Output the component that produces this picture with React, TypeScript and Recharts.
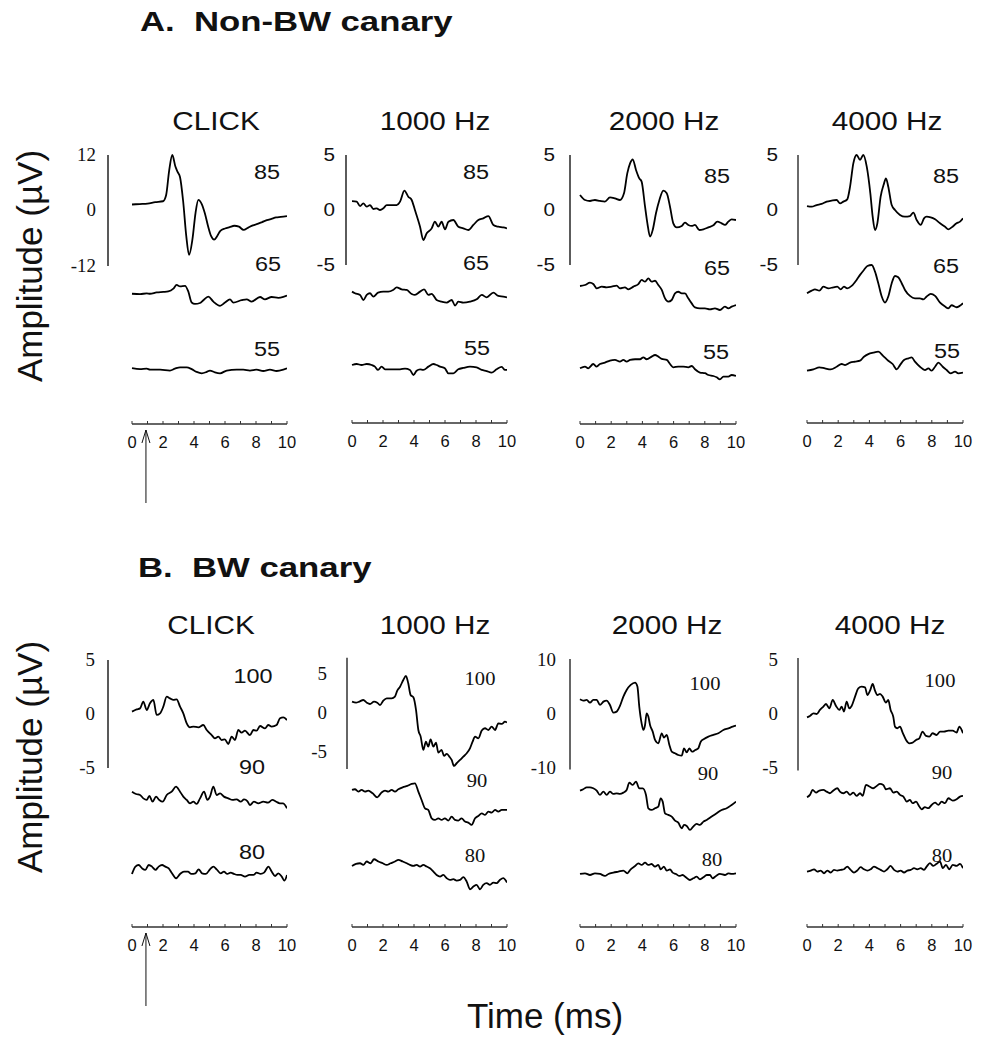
import React from "react";
import { LineChart, Line, XAxis, YAxis, ReferenceLine, ReferenceDot } from "recharts";

type Pt = [number, number];

const SANS = '"Liberation Sans", Arial, sans-serif';
const SERIF = '"Liberation Serif", "Times New Roman", serif';

// time ticks (ms), labels on even values only
const TIME_TICKS = [0, 1, 2, 3, 4, 5, 6, 7, 8, 9, 10];
const STIMULI = ["CLICK", "1000 Hz", "2000 Hz", "4000 Hz"];
const LEVELS_A = ["85", "65", "55"];
const LEVELS_B = ["100", "90", "80"];
const ARROW_T = 0.9; // stimulus onset marker

// ---- A. Non-BW canary : [time ms, amplitude µV] ----
const A_CLICK_85: Pt[] = [[0,1.3],[0.5,1.4],[1,1.5],[1.5,1.8],[2,2.0],[2.2,3.3],[2.4,8.7],[2.6,12],[2.8,9.5],[2.95,8.3],[3.1,7.2],[3.3,2],[3.5,-5.5],[3.68,-9.6],[3.9,-6.2],[4.1,-0.5],[4.28,2.3],[4.5,1.4],[4.7,-0.6],[4.9,-3.3],[5.1,-5.5],[5.3,-6.3],[5.5,-5.5],[5.7,-4.4],[6.0,-3.9],[6.3,-3.6],[6.6,-3.3],[6.9,-3.5],[7.2,-4.2],[7.5,-3.7],[7.8,-3.2],[8.1,-2.9],[8.4,-2.5],[8.7,-2.1],[9.0,-1.8],[9.3,-1.5],[9.6,-1.4],[10,-1.2]];
const A_CLICK_65: Pt[] = [[0,0],[0.52,-0.1],[0.95,0.1],[1.16,0],[1.59,0.3],[2.02,0.4],[2.34,0.5],[2.67,1.1],[2.88,1.9],[3.1,1.6],[3.42,1.7],[3.63,0.5],[3.85,-1.9],[4.06,-2.2],[4.39,-2.0],[4.6,-1.4],[4.92,-0.6],[5.25,-1.7],[5.68,-2.6],[6.0,-1.9],[6.32,-1.2],[6.54,-1.9],[7.07,-1.4],[7.4,-1.2],[7.72,-1.7],[8.26,-0.7],[8.58,-1.2],[9.01,-0.7],[9.44,-0.9],[9.76,-0.7],[10,-0.4]];
const A_CLICK_55: Pt[] = [[0,0.2],[0.52,0],[0.95,0.1],[1.16,-0.1],[1.81,-0.1],[2.45,-0.3],[2.77,0.1],[3.1,0.4],[3.53,0.4],[3.85,0],[4.17,-0.6],[4.5,-0.9],[4.82,-0.6],[5.03,-0.3],[5.35,-0.7],[5.68,-0.9],[6.11,-0.3],[6.75,-0.1],[7.18,-0.1],[7.61,-0.3],[8.04,-0.1],[8.47,-0.4],[8.9,-0.1],[9.33,-0.4],[9.76,-0.1],[10,0.2]];

const A_1000_85: Pt[] = [[0,0.8],[0.3,0.76],[0.52,0.36],[0.73,0.6],[0.95,0.3],[1.16,0.45],[1.38,0.09],[1.59,0.15],[1.81,0],[2.02,0.15],[2.24,0.45],[2.45,0.45],[2.88,0.45],[3.1,0.76],[3.38,1.76],[3.63,1.21],[3.85,0.91],[4.06,0],[4.39,-1.52],[4.6,-2.73],[4.82,-2.12],[5.14,-1.67],[5.35,-1.06],[5.57,-1.52],[5.78,-1.06],[6.0,-1.76],[6.22,-1.06],[6.54,-0.91],[6.86,-1.52],[7.18,-1.67],[7.51,-1.82],[7.83,-1.36],[8.15,-0.91],[8.47,-0.76],[8.8,-0.55],[9.12,-1.36],[9.44,-1.52],[9.76,-1.58],[10,-1.67]];
const A_1000_65: Pt[] = [[0,0],[0.19,-0.15],[0.52,-0.3],[0.73,-0.76],[0.95,-0.3],[1.16,-0.15],[1.38,-0.45],[1.68,-0.09],[2.02,0],[2.34,0],[2.65,0.15],[2.88,0.39],[3.2,0.21],[3.53,0.15],[3.85,-0.21],[4.06,-0.3],[4.39,0],[4.65,0.21],[4.93,-0.3],[5.14,-0.21],[5.46,-0.76],[5.78,-0.91],[6.11,-1.0],[6.43,-0.76],[6.65,-1.27],[6.86,-0.91],[7.18,-1.0],[7.61,-0.91],[8.04,-0.7],[8.37,-0.3],[8.69,-0.52],[9.12,-0.09],[9.44,-0.39],[9.76,-0.45],[10,-0.52]];
const A_1000_55: Pt[] = [[0,0],[0.3,0.09],[0.62,0],[0.95,0.09],[1.27,0],[1.48,-0.15],[1.68,-0.45],[1.91,-0.15],[2.13,-0.39],[2.45,-0.39],[2.77,-0.39],[3.1,-0.39],[3.42,-0.33],[3.74,-0.45],[3.96,-0.91],[4.17,-0.52],[4.39,-0.39],[4.6,-0.45],[4.93,-0.15],[5.25,0.09],[5.46,0],[5.68,-0.15],[5.99,-0.3],[6.22,-0.76],[6.54,-0.76],[6.86,-0.39],[7.18,-0.27],[7.61,-0.15],[8.04,-0.21],[8.37,-0.45],[8.69,-0.55],[9.0,-0.7],[9.33,-0.39],[9.66,-0.18],[9.87,-0.45],[10,-0.45]];

const A_2000_85: Pt[] = [[0,1.36],[0.32,0.91],[0.64,0.82],[0.96,0.91],[1.28,0.82],[1.6,0.76],[1.92,1.15],[2.24,1.06],[2.56,0.91],[2.82,1.52],[3.03,3.33],[3.21,4.24],[3.38,4.61],[3.59,3.64],[3.8,2.88],[3.95,2.58],[4.17,0.3],[4.32,-1.21],[4.49,-2.42],[4.66,-1.82],[4.87,-0.3],[5.09,0.91],[5.34,1.76],[5.56,1.52],[5.77,0.3],[5.98,-1.21],[6.2,-1.58],[6.52,-1.45],[6.73,-1.15],[6.94,-1.36],[7.16,-1.45],[7.37,-1.36],[7.65,-1.82],[7.91,-1.76],[8.23,-1.58],[8.55,-1.39],[8.8,-1.06],[9.08,-1.21],[9.29,-1.36],[9.51,-1.06],[9.72,-0.85],[10,-0.91]];
const A_2000_65: Pt[] = [[0,0],[0.32,0.09],[0.64,0.3],[0.85,0.18],[1.07,-0.21],[1.39,-0.06],[1.71,-0.12],[2.03,-0.06],[2.35,0.03],[2.56,-0.21],[2.88,-0.12],[3.1,-0.3],[3.42,-0.06],[3.74,0.18],[3.95,0.55],[4.17,0.39],[4.38,0.7],[4.59,0.39],[4.81,0.48],[5.02,0.09],[5.24,-0.36],[5.45,-1.12],[5.66,-1.42],[5.88,-1.27],[6.09,-0.67],[6.3,-0.52],[6.52,-0.67],[6.73,-0.67],[6.94,-1.12],[7.16,-1.58],[7.37,-1.94],[7.69,-2.03],[8.01,-2.03],[8.33,-2.12],[8.65,-2.03],[8.97,-2.18],[9.29,-1.88],[9.51,-2.03],[9.72,-1.88],[10,-1.73]];
const A_2000_55: Pt[] = [[0,0],[0.32,0.15],[0.53,0],[0.85,0.39],[1.07,0.15],[1.28,0.39],[1.6,0.52],[1.92,0.7],[2.24,0.76],[2.56,0.61],[2.78,0.76],[2.99,0.61],[3.21,0.76],[3.53,0.82],[3.85,0.82],[4.06,1.0],[4.27,0.82],[4.59,1.06],[4.81,1.21],[5.02,1.06],[5.24,0.85],[5.56,0.76],[5.77,0.39],[5.98,0.09],[6.3,0.15],[6.62,0.15],[6.94,0.09],[7.16,0.21],[7.37,-0.09],[7.69,-0.39],[8.01,-0.45],[8.23,-0.61],[8.55,-0.7],[8.76,-0.82],[8.97,-1.0],[9.19,-0.76],[9.51,-0.76],[9.72,-0.61],[10,-0.7]];

const A_4000_85: Pt[] = [[0,0.36],[0.3,0.3],[0.62,0.45],[0.94,0.55],[1.26,0.76],[1.58,0.85],[1.9,0.91],[2.12,0.61],[2.33,0.76],[2.58,0.97],[2.76,2.12],[2.97,4.24],[3.18,5.0],[3.4,4.55],[3.61,5.0],[3.83,3.94],[4.06,1.52],[4.21,-0.61],[4.36,-1.82],[4.51,-1.21],[4.72,1.21],[4.94,2.42],[5.06,2.88],[5.21,2.12],[5.43,0.45],[5.64,0],[5.96,-0.45],[6.28,-0.61],[6.6,-0.55],[6.82,-0.24],[7.03,-0.91],[7.29,-1.36],[7.5,-0.76],[7.67,-0.61],[7.93,-0.67],[8.21,-0.85],[8.53,-1.21],[8.85,-1.52],[9.06,-1.76],[9.27,-1.58],[9.59,-1.21],[9.81,-1.06],[10,-0.76]];
const A_4000_65: Pt[] = [[0,-0.15],[0.3,0.09],[0.51,0.21],[0.79,0.09],[1.05,0.45],[1.37,0.3],[1.69,0.39],[1.94,0.45],[2.16,0.21],[2.37,0.45],[2.58,0.3],[2.86,0.52],[3.18,1.06],[3.4,1.52],[3.65,1.97],[3.87,2.33],[4.15,2.42],[4.36,1.82],[4.57,0.76],[4.79,-0.45],[5.0,-1.0],[5.21,-0.45],[5.43,0.76],[5.64,1.42],[5.85,1.3],[6.07,0.76],[6.28,0.15],[6.6,-0.39],[6.92,-0.61],[7.24,-0.61],[7.46,-0.7],[7.67,-0.45],[7.93,-0.21],[8.21,-0.39],[8.53,-1.0],[8.85,-1.36],[9.06,-1.52],[9.27,-1.24],[9.59,-1.42],[10,-1.06]];
const A_4000_55: Pt[] = [[0,-0.06],[0.41,0.06],[0.79,0.24],[1.15,0.15],[1.52,0.06],[1.9,0.3],[2.22,0.55],[2.44,0.45],[2.76,0.67],[3.08,0.76],[3.4,0.85],[3.65,1.21],[3.93,1.45],[4.25,1.58],[4.57,1.67],[4.89,1.27],[5.21,0.85],[5.49,0.55],[5.75,0.06],[5.96,0.45],[6.22,0.91],[6.5,1.06],[6.71,1.15],[6.92,0.76],[7.24,0.3],[7.56,0],[7.78,0.15],[7.99,-0.06],[8.21,0.3],[8.42,0.67],[8.7,0.3],[8.95,0],[9.21,-0.3],[9.49,-0.15],[9.7,-0.3],[10,-0.24]];

// ---- B. BW canary ----
const B_CLICK_100: Pt[] = [[0,0.22],[0.3,0.43],[0.52,0.52],[0.73,1.14],[0.95,0.37],[1.16,0.99],[1.38,1.3],[1.59,-0.09],[1.81,0.06],[2.02,0.68],[2.24,1.6],[2.45,1.45],[2.67,1.3],[2.88,1.36],[3.1,0.68],[3.31,0.06],[3.53,-0.86],[3.74,-1.23],[3.96,-1.17],[4.28,-1.23],[4.6,-1.02],[4.82,-1.48],[5.14,-1.95],[5.35,-2.25],[5.57,-2.1],[5.78,-2.41],[5.99,-2.35],[6.21,-2.78],[6.43,-2.1],[6.64,-2.41],[6.86,-1.48],[7.07,-1.73],[7.29,-1.54],[7.61,-1.95],[7.83,-1.48],[8.04,-1.54],[8.26,-1.11],[8.58,-1.33],[8.79,-1.02],[9.01,-1.17],[9.33,-1.02],[9.55,-0.4],[9.76,-0.31],[10,-0.56]];
const B_CLICK_90: Pt[] = [[0,0.31],[0.26,0.09],[0.52,0],[0.73,-0.31],[0.95,-0.46],[1.12,-0.09],[1.33,-0.62],[1.55,-0.15],[1.76,-0.46],[1.98,-0.62],[2.24,0],[2.56,0.31],[2.84,0.77],[3.1,0.31],[3.31,-0.15],[3.53,-0.46],[3.74,-0.77],[3.96,-0.62],[4.17,-0.83],[4.39,-0.31],[4.65,0.31],[4.86,-0.46],[5.03,-0.15],[5.25,0.77],[5.46,0],[5.68,0.15],[5.93,-0.15],[6.21,-0.31],[6.49,-0.46],[6.75,-0.4],[7.01,-0.62],[7.23,-0.4],[7.44,-0.56],[7.61,-0.93],[7.87,-0.62],[8.15,-0.77],[8.47,-0.62],[8.77,-0.71],[9.05,-0.46],[9.31,-0.62],[9.53,-0.77],[9.74,-0.77],[10,-1.23]];
const B_CLICK_80: Pt[] = [[0,-0.37],[0.22,0.31],[0.43,0.46],[0.65,0.15],[0.86,0],[1.08,0.46],[1.29,0.31],[1.51,0],[1.72,0.31],[1.94,0.46],[2.15,0.31],[2.37,0.15],[2.58,-0.31],[2.84,-0.77],[3.1,-0.37],[3.35,-0.15],[3.61,-0.15],[3.83,-0.37],[4.09,-0.31],[4.3,0.06],[4.52,-0.31],[4.77,-0.37],[5.03,0.06],[5.25,0.31],[5.46,0.06],[5.72,-0.31],[5.93,-0.15],[6.15,-0.37],[6.37,-0.25],[6.58,-0.37],[6.8,-0.46],[7.01,-0.46],[7.29,-0.62],[7.57,-0.46],[7.83,-0.46],[8.04,-0.25],[8.3,-0.37],[8.52,-0.25],[8.8,0.31],[9.01,-0.15],[9.23,-0.56],[9.44,-0.31],[9.66,-0.62],[9.83,-0.99],[10,-0.46]];

const B_1000_100: Pt[] = [[0,1.49],[0.26,1.36],[0.47,1.49],[0.73,1.7],[0.95,1.36],[1.16,1.19],[1.42,1.49],[1.63,1.36],[1.81,1.06],[2.02,1.62],[2.24,1.91],[2.56,1.91],[2.77,2.13],[2.92,2.89],[3.1,3.4],[3.31,4.26],[3.48,4.77],[3.63,3.83],[3.78,2.34],[3.96,2.04],[4.13,0.43],[4.28,-2.13],[4.43,-2.98],[4.6,-4.68],[4.77,-3.62],[4.92,-4.26],[5.07,-3.32],[5.25,-4.26],[5.42,-3.74],[5.57,-5.02],[5.78,-4.68],[5.94,-5.45],[6.11,-5.19],[6.28,-5.53],[6.43,-5.96],[6.58,-6.72],[6.75,-6.38],[6.97,-5.96],[7.18,-5.53],[7.4,-5.11],[7.61,-4.47],[7.78,-3.62],[7.94,-2.98],[8.15,-3.19],[8.37,-2.21],[8.58,-1.91],[8.8,-2.13],[9.01,-1.7],[9.23,-2.13],[9.44,-1.28],[9.66,-1.36],[9.87,-1.06],[10,-1.19]];
const B_1000_90: Pt[] = [[0,0],[0.19,0.09],[0.41,-0.21],[0.62,0],[0.84,-0.21],[1.05,-0.09],[1.33,-0.43],[1.63,-0.94],[1.9,-0.34],[2.13,-0.09],[2.34,-0.21],[2.56,0],[2.77,-0.21],[2.99,0.09],[3.27,0.34],[3.57,0.51],[3.85,0.77],[4.06,0.85],[4.28,-0.21],[4.49,-1.28],[4.71,-2.34],[4.92,-2.55],[5.14,-3.62],[5.35,-3.83],[5.57,-3.62],[5.78,-3.83],[5.99,-3.62],[6.21,-3.91],[6.43,-3.4],[6.64,-3.83],[6.86,-3.91],[7.07,-3.62],[7.29,-4.04],[7.5,-4.17],[7.72,-4.47],[7.94,-3.62],[8.15,-3.32],[8.37,-2.98],[8.58,-3.19],[8.8,-2.77],[9.01,-2.89],[9.23,-2.55],[9.44,-2.77],[9.66,-2.55],[10,-2.55]];
const B_1000_80: Pt[] = [[0,-0.13],[0.26,0.13],[0.52,0.21],[0.73,0],[0.95,0.43],[1.2,0.21],[1.42,0.72],[1.7,0.43],[1.98,0.21],[2.24,0],[2.49,0.21],[2.77,0.43],[2.99,0.64],[3.27,0.43],[3.53,0.21],[3.74,0],[3.96,-0.13],[4.17,0],[4.39,-0.21],[4.6,0],[4.82,-0.21],[5.03,-0.43],[5.25,-0.85],[5.46,-1.28],[5.68,-1.49],[5.89,-1.28],[6.11,-1.7],[6.32,-1.91],[6.54,-1.83],[6.75,-2.0],[6.97,-1.91],[7.18,-1.57],[7.4,-2.13],[7.61,-3.11],[7.83,-2.77],[8.04,-2.55],[8.26,-3.11],[8.47,-2.55],[8.69,-2.34],[8.9,-2.55],[9.12,-2.26],[9.33,-2.34],[9.55,-1.91],[9.76,-1.7],[10,-2.26]];

const B_2000_100: Pt[] = [[0,2.8],[0.21,2.55],[0.43,2.67],[0.64,2.17],[0.85,2.67],[1.07,2.67],[1.28,1.74],[1.5,2.36],[1.71,2.55],[1.92,1.74],[2.14,0.31],[2.35,0.5],[2.56,1.55],[2.78,3.29],[2.99,4.53],[3.25,5.47],[3.53,5.9],[3.68,5.16],[3.8,1.43],[3.95,-1.68],[4.06,-2.92],[4.17,-1.99],[4.27,0.19],[4.38,-0.43],[4.49,-1.99],[4.66,-3.23],[4.81,-4.78],[5.02,-5.4],[5.24,-3.54],[5.38,-4.35],[5.56,-3.85],[5.73,-5.71],[5.88,-6.96],[6.09,-7.27],[6.3,-7.58],[6.52,-7.7],[6.67,-6.34],[6.84,-7.08],[7.01,-6.34],[7.18,-6.96],[7.39,-6.65],[7.58,-6.34],[7.74,-5.1],[7.95,-4.6],[8.23,-4.16],[8.55,-3.85],[8.87,-3.54],[9.19,-2.92],[9.51,-2.61],[9.79,-2.3],[10,-2.11]];
const B_2000_90: Pt[] = [[0,0],[0.21,0.25],[0.43,0.62],[0.64,0.62],[0.85,0.43],[1.07,0],[1.28,-0.81],[1.5,-0.19],[1.71,-0.81],[1.92,-0.19],[2.14,-0.62],[2.35,-0.5],[2.56,-0.62],[2.78,-0.37],[2.99,0.12],[3.16,1.49],[3.38,1.06],[3.59,1.68],[3.8,0.43],[4.02,0.43],[4.23,-0.81],[4.38,-3.29],[4.59,-3.6],[4.81,-3.29],[5.02,-2.98],[5.17,-1.43],[5.3,-2.05],[5.45,-4.22],[5.66,-4.53],[5.88,-4.84],[6.09,-5.59],[6.3,-5.96],[6.52,-7.02],[6.67,-6.4],[6.84,-6.58],[7.05,-7.33],[7.26,-6.71],[7.48,-6.21],[7.69,-6.4],[7.91,-5.78],[8.12,-5.47],[8.44,-4.84],[8.76,-4.22],[9.08,-3.6],[9.4,-3.29],[9.72,-2.67],[10,-2.05]];
const B_2000_80: Pt[] = [[0,0],[0.32,0.12],[0.64,-0.19],[0.96,0.12],[1.28,0],[1.6,-0.37],[1.82,0],[2.14,0.25],[2.46,0.43],[2.78,0.62],[3.03,0.12],[3.25,0.87],[3.53,1.49],[3.74,1.99],[3.95,1.68],[4.17,2.11],[4.38,1.68],[4.59,1.86],[4.81,1.37],[5.02,1.68],[5.17,0.87],[5.38,1.37],[5.56,0.62],[5.77,0.87],[5.94,0.25],[6.15,0],[6.37,-0.37],[6.58,-0.19],[6.79,-0.62],[7.05,-1.12],[7.26,-0.81],[7.48,-0.5],[7.69,-0.99],[7.91,-0.62],[8.12,-0.19],[8.33,-0.19],[8.5,-0.81],[8.72,-0.37],[8.97,0],[9.29,-0.19],[9.51,0.12],[9.72,0],[10,0.12]];

const B_4000_100: Pt[] = [[0,-0.28],[0.19,-0.15],[0.41,0.09],[0.62,0.03],[0.83,0.4],[1.05,0.71],[1.22,0.95],[1.43,0.55],[1.65,1.32],[1.86,0.77],[2.07,0.4],[2.22,0.71],[2.37,0.25],[2.54,1.17],[2.71,0.55],[2.86,0.77],[3.08,1.63],[3.29,2.4],[3.5,2.55],[3.72,2.49],[3.87,1.78],[4.04,2.18],[4.21,2.8],[4.36,2.18],[4.51,1.78],[4.68,1.88],[4.85,1.63],[5.06,1.08],[5.21,1.32],[5.36,0.4],[5.53,-0.22],[5.64,-1.14],[5.79,-1.29],[5.96,-1.14],[6.13,-1.69],[6.35,-2.37],[6.56,-2.68],[6.77,-2.62],[6.99,-2.37],[7.2,-2.22],[7.41,-1.6],[7.63,-2.0],[7.84,-2.06],[8.05,-1.75],[8.31,-1.91],[8.53,-1.6],[8.78,-1.6],[9.06,-1.51],[9.34,-1.51],[9.59,-1.69],[9.76,-1.14],[10,-1.75]];
const B_4000_90: Pt[] = [[0,-0.37],[0.19,-0.15],[0.36,0.31],[0.58,0.06],[0.79,0.25],[1.05,0.31],[1.26,0.15],[1.47,0],[1.69,0.25],[1.94,0.46],[2.11,0.15],[2.33,0],[2.54,0.15],[2.76,-0.15],[2.97,0.06],[3.18,-0.25],[3.4,0],[3.57,-0.25],[3.78,0.77],[4.0,0.62],[4.25,0.46],[4.47,0.68],[4.68,0.86],[4.89,0.77],[5.06,0.37],[5.32,0.46],[5.53,0.06],[5.75,0.15],[5.96,-0.15],[6.18,-0.31],[6.39,-0.77],[6.6,-0.62],[6.77,-0.92],[6.99,-0.77],[7.2,-1.23],[7.35,-1.48],[7.56,-1.29],[7.78,-1.38],[7.99,-1.08],[8.21,-0.86],[8.42,-1.08],[8.63,-0.77],[8.85,-0.92],[9.06,-0.46],[9.34,-0.68],[9.59,-0.55],[9.81,-0.31],[10,-0.25]];
const B_4000_80: Pt[] = [[0,-0.09],[0.24,0],[0.45,0.12],[0.66,-0.09],[0.88,0],[1.09,-0.25],[1.3,0],[1.52,-0.18],[1.73,0.06],[1.94,0],[2.16,0.06],[2.37,0.12],[2.58,0.37],[2.8,0.06],[3.01,-0.18],[3.22,0],[3.44,0.31],[3.65,0.12],[3.87,0],[4.08,0.12],[4.29,0.37],[4.51,0.22],[4.72,0.06],[4.94,-0.09],[5.15,0.12],[5.36,0.43],[5.58,0.06],[5.79,-0.09],[6.0,0],[6.22,-0.18],[6.43,0],[6.65,0.06],[6.86,0.22],[7.07,0.12],[7.29,0.22],[7.5,0.06],[7.67,0.37],[7.88,0.68],[8.1,0.43],[8.31,0.62],[8.53,0.83],[8.7,0.22],[8.91,0.52],[9.12,0.12],[9.34,0.52],[9.59,0.43],[9.81,0.62],[10,0.22]];

// layout of each panel, in page pixels
interface PanelCfg {
  traces: Pt[][]
  offsets: number[]
  axisX: number
  x0: number
  x10: number
  zeroY: number
  pxPerUV: number
  plotTop: number
  xAxisY: number
  axisRange: [number, number]
  yTicks: number[]
  tickFont: string
  tickGap: number
  axisColor: string
  axisWidth: number
  arrow?: boolean
  levels: string[]
  levelPos: [number, number][]
  levelFont: string
}

const PANELS: PanelCfg[] = [
  { traces: [A_CLICK_85, A_CLICK_65, A_CLICK_55], offsets: [0, -18.0, -34.3], axisX: 108, x0: 132, x10: 287, zeroY: 210.5, pxPerUV: 4.625, plotTop: 140, xAxisY: 424, axisRange: [-12, 12], yTicks: [-12, 0, 12], tickFont: SERIF, tickGap: 12, axisColor: "#222", axisWidth: 1.5, arrow: true, levels: LEVELS_A, levelPos: [[267, 173], [268, 265], [267, 350]], levelFont: SANS },
  { traces: [A_1000_85, A_1000_65, A_1000_55], offsets: [0, -7.42, -14.09], axisX: 346, x0: 352, x10: 507, zeroY: 210, pxPerUV: 11, plotTop: 140, xAxisY: 423, axisRange: [-5, 5], yTicks: [-5, 0, 5], tickFont: SANS, tickGap: 11, axisColor: "#333", axisWidth: 1.6, levels: LEVELS_A, levelPos: [[476, 173], [476, 264], [477, 349]], levelFont: SANS },
  { traces: [A_2000_85, A_2000_65, A_2000_55], offsets: [0, -6.91, -14.39], axisX: 570, x0: 580, x10: 736, zeroY: 210, pxPerUV: 11, plotTop: 140, xAxisY: 424, axisRange: [-5, 5], yTicks: [-5, 0, 5], tickFont: SANS, tickGap: 15, axisColor: "#333", axisWidth: 1.6, levels: LEVELS_A, levelPos: [[717, 177], [717, 269], [716, 353]], levelFont: SANS },
  { traces: [A_4000_85, A_4000_65, A_4000_55], offsets: [0, -7.42, -14.55], axisX: 798, x0: 807, x10: 963, zeroY: 210, pxPerUV: 11, plotTop: 140, xAxisY: 423, axisRange: [-5, 5], yTicks: [-5, 0, 5], tickFont: SANS, tickGap: 20, axisColor: "#6a6a6a", axisWidth: 2, levels: LEVELS_A, levelPos: [[946, 177], [946, 267], [947, 352]], levelFont: SANS },
  { traces: [B_CLICK_100, B_CLICK_90, B_CLICK_80], offsets: [0, -7.5, -14.44], axisX: 108, x0: 132, x10: 287, zeroY: 714, pxPerUV: 10.8, plotTop: 645, xAxisY: 927, axisRange: [-5, 5], yTicks: [-5, 0, 5], tickFont: SERIF, tickGap: 13, axisColor: "#222", axisWidth: 1.5, arrow: true, levels: LEVELS_B, levelPos: [[253, 677], [252, 768], [252, 853]], levelFont: SANS },
  { traces: [B_1000_100, B_1000_90, B_1000_80], offsets: [0, -9.79, -19.36], axisX: 347, x0: 352, x10: 507, zeroY: 713.3, pxPerUV: 7.83, plotTop: 645, xAxisY: 927, axisRange: [-7.1, 7.1], yTicks: [-5, 0, 5], tickFont: SERIF, tickGap: 20, axisColor: "#333", axisWidth: 1.5, levels: LEVELS_B, levelPos: [[480, 678], [477, 780], [475, 855]], levelFont: SERIF },
  { traces: [B_2000_100, B_2000_90, B_2000_80], offsets: [0, -14.22, -29.75], axisX: 570, x0: 580, x10: 736, zeroY: 714.3, pxPerUV: 5.367, plotTop: 645, xAxisY: 927, axisRange: [-10.3, 10.3], yTicks: [-10, 0, 10], tickFont: SERIF, tickGap: 14, axisColor: "#333", axisWidth: 1.5, levels: LEVELS_B, levelPos: [[705, 683], [708, 773], [712, 859]], levelFont: SERIF },
  { traces: [B_4000_100, B_4000_90, B_4000_80], offsets: [0, -7.29, -14.43], axisX: 798, x0: 807, x10: 963, zeroY: 714.3, pxPerUV: 10.83, plotTop: 645, xAxisY: 927, axisRange: [-5.2, 5.2], yTicks: [-5, 0, 5], tickFont: SERIF, tickGap: 20, axisColor: "#6a6a6a", axisWidth: 2, levels: LEVELS_B, levelPos: [[940, 680], [942, 772], [942, 855]], levelFont: SERIF },
];

const TITLE_POS_A: [number, number][] = [[216, 122], [435, 122], [664, 122], [887, 122]];
const TITLE_POS_B: [number, number][] = [[211, 626], [435, 626], [667, 626], [890, 626]];

function XTick(props: any) {
  const { x, y, payload } = props;
  const v = payload.value;
  return (
    <g>
      <line x1={x} y1={y} x2={x} y2={y - 3} stroke="#333" strokeWidth={1} />
      {v % 2 === 0 && (
        <text x={x} y={y + 18} textAnchor="middle" dominantBaseline="central" fontFamily={SANS} fontSize={16.5} fill="#111">
          {v}
        </text>
      )}
    </g>
  );
}

const makeYTick = (font: string) => (props: any) => {
  const { x, y, payload } = props;
  const sx = font === SANS ? 1.15 : 1.05;
  return (
    <text transform={`translate(${x},${y}) scale(${sx},1)`} textAnchor="end" dominantBaseline="central" fontFamily={font} fontSize={18} fill="#111">
      {payload.value}
    </text>
  );
};

function ArrowShape(props: any) {
  const { cx, cy } = props;
  const top = cy + 6;
  const bottom = cy + 79;
  return (
    <g>
      <line x1={cx} y1={top} x2={cx} y2={bottom} stroke="#111" strokeWidth={1} />
      <polyline points={`${cx - 4},${top + 13} ${cx},${top} ${cx + 4},${top + 13}`} fill="none" stroke="#111" strokeWidth={1} />
    </g>
  );
}

function Txt({ x, y, children, size, font = SANS, bold = false, sx = 1, rotate = 0, left = false }: any) {
  const transform = left
    ? `translate(0,-50%) scaleX(${sx})`
    : `translate(-50%,-50%) rotate(${rotate}deg) scaleX(${sx})`;
  return (
    <div
      style={{
        position: "absolute",
        left: x,
        top: y,
        transform,
        transformOrigin: left ? "left center" : "center center",
        fontFamily: font,
        fontSize: size,
        fontWeight: bold ? 700 : 400,
        lineHeight: 1,
        whiteSpace: "pre",
        color: "#111",
      }}
    >
      {children}
    </div>
  );
}

function Panel({ cfg }: { cfg: PanelCfg }) {
  const pxPerMs = (cfg.x10 - cfg.x0) / 10;
  const tAxis = -(cfg.x0 - cfg.axisX) / pxPerMs;
  const hi = (cfg.zeroY - cfg.plotTop) / cfg.pxPerUV;
  const lo = -(cfg.xAxisY - cfg.zeroY) / cfg.pxPerUV;
  const YW = 60;
  const R = 18;
  const XH = cfg.arrow ? 95 : 36;
  const left = cfg.axisX - YW;
  const width = cfg.x10 - left + R;
  const height = cfg.xAxisY - cfg.plotTop + XH;
  const series = cfg.traces.map((tr, i) => tr.map(([t, v]) => ({ t, v: v + cfg.offsets[i] })));

  return (
    <div style={{ position: "absolute", left, top: cfg.plotTop }}>
      <LineChart width={width} height={height} margin={{ top: 0, right: R, bottom: 0, left: 0 }}>
        <XAxis
          type="number"
          dataKey="t"
          domain={[tAxis, 10]}
          allowDataOverflow
          ticks={TIME_TICKS}
          interval={0}
          axisLine={false}
          tickLine={false}
          tickSize={0}
          tickMargin={0}
          height={XH}
          tick={XTick}
        />
        <YAxis
          type="number"
          domain={[lo, hi]}
          allowDataOverflow
          ticks={cfg.yTicks}
          interval={0}
          axisLine={false}
          tickLine={false}
          tickSize={0}
          tickMargin={cfg.tickGap}
          width={YW}
          tick={makeYTick(cfg.tickFont)}
        />
        <ReferenceLine
          ifOverflow="visible"
          segment={[{ x: tAxis, y: cfg.axisRange[0] }, { x: tAxis, y: cfg.axisRange[1] }]}
          stroke={cfg.axisColor}
          strokeWidth={cfg.axisWidth}
        />
        <ReferenceLine
          ifOverflow="visible"
          segment={[{ x: 0, y: lo }, { x: 10, y: lo }]}
          stroke="#333"
          strokeWidth={1.3}
        />
        {series.map((d, i) => (
          <Line
            key={i}
            data={d}
            dataKey="v"
            type="monotone"
            dot={false}
            stroke="#000"
            strokeWidth={1.8}
            isAnimationActive={false}
          />
        ))}
        {cfg.arrow && <ReferenceDot ifOverflow="visible" x={ARROW_T} y={lo} r={0} shape={ArrowShape} />}
      </LineChart>
    </div>
  );
}

export default function App() {
  return (
    <div style={{ position: "absolute", left: 0, top: 0, width: 989, height: 1050, background: "#fff", overflow: "hidden" }}>
      <Txt x={140} y={22} size={28} bold sx={1.24} left>{"A.  Non-BW canary"}</Txt>
      <Txt x={138} y={568} size={28} bold sx={1.24} left>{"B.  BW canary"}</Txt>

      {STIMULI.map((s, i) => (
        <Txt key={"ta" + i} x={TITLE_POS_A[i][0]} y={TITLE_POS_A[i][1]} size={25.6} sx={1.16}>{s}</Txt>
      ))}
      {STIMULI.map((s, i) => (
        <Txt key={"tb" + i} x={TITLE_POS_B[i][0]} y={TITLE_POS_B[i][1]} size={25.6} sx={1.16}>{s}</Txt>
      ))}

      <Txt x={29} y={266} size={35} rotate={-90}>Amplitude (µV)</Txt>
      <Txt x={29} y={757} size={35} rotate={-90}>Amplitude (µV)</Txt>
      <Txt x={545} y={1015} size={35}>Time (ms)</Txt>

      {PANELS.map((p, i) => (
        <Panel key={i} cfg={p} />
      ))}

      {PANELS.map((p, i) =>
        p.levels.map((lv, j) => (
          <Txt
            key={"lv" + i + "-" + j}
            x={p.levelPos[j][0]}
            y={p.levelPos[j][1]}
            size={p.levelFont === SANS ? 19.5 : 19}
            font={p.levelFont}
            sx={p.levelFont === SANS ? 1.2 : 1.08}
          >
            {lv}
          </Txt>
        ))
      )}
    </div>
  );
}
